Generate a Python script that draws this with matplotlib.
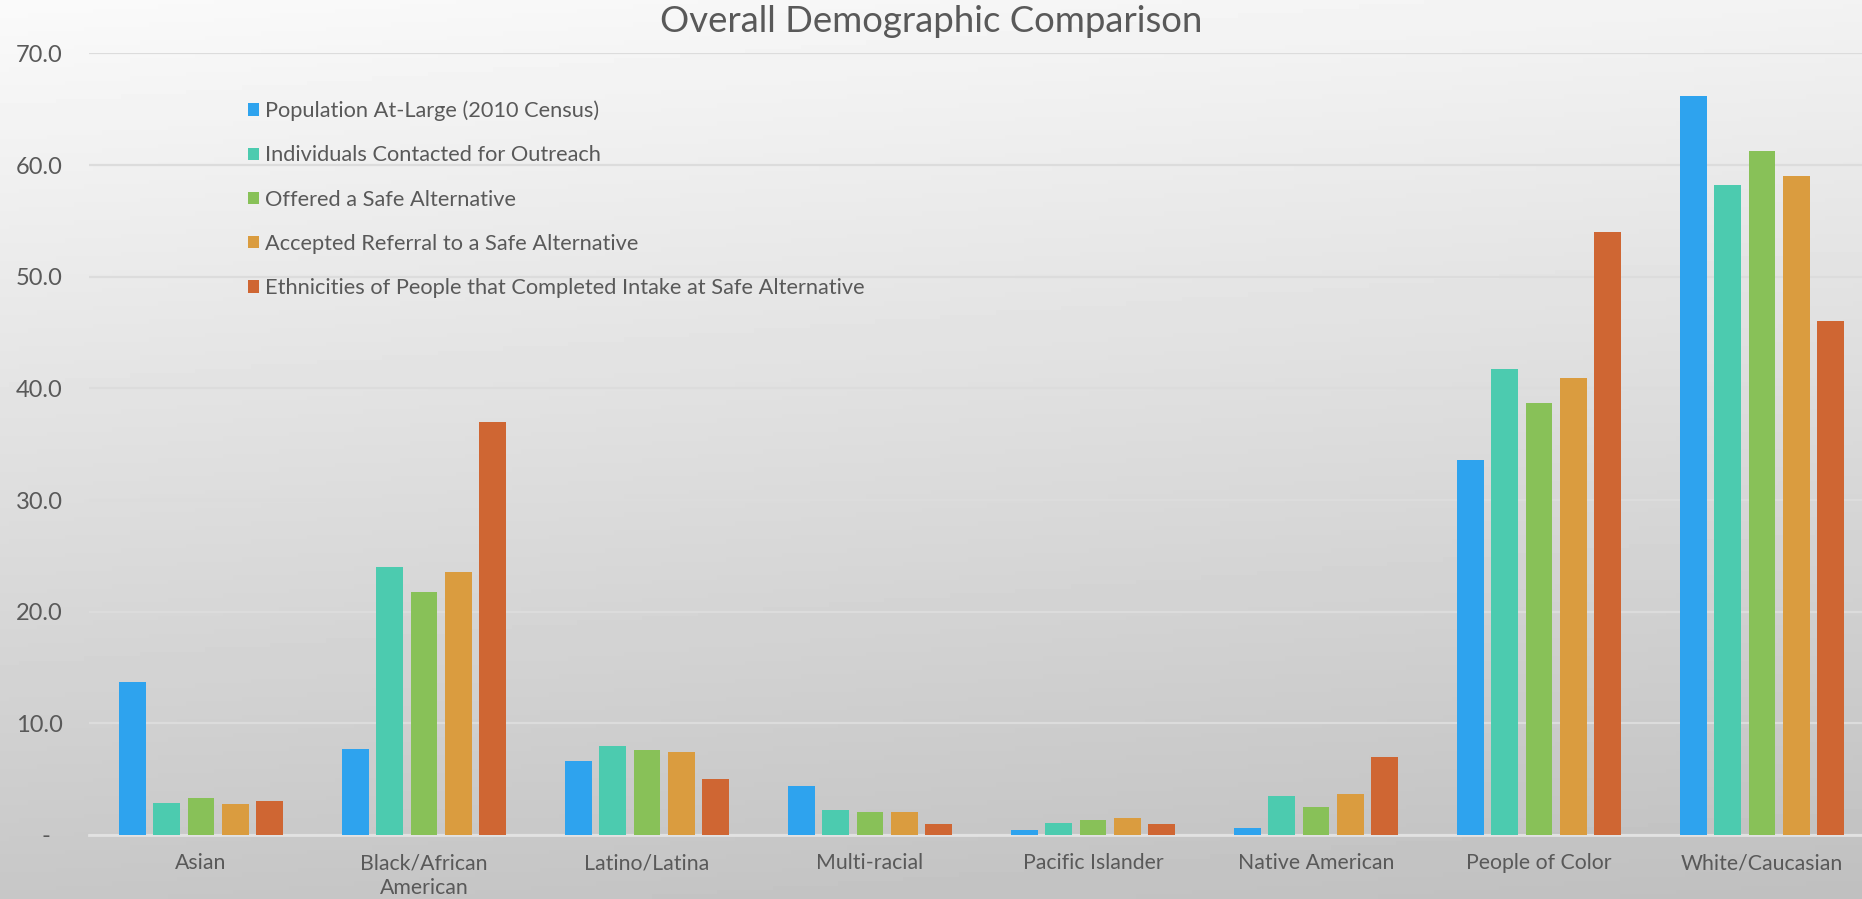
import matplotlib.pyplot as plt
import numpy as np

categories = [
    "Asian",
    "Black/African\nAmerican",
    "Latino/Latina",
    "Multi-racial",
    "Pacific Islander",
    "Native American",
    "People of Color",
    "White/Caucasian",
]
series_names = [
    "Population At-Large (2010 Census)",
    "Individuals Contacted for Outreach",
    "Offered a Safe Alternative",
    "Accepted Referral to a Safe Alternative",
    "Ethnicities of People that Completed Intake at Safe Alternative",
]
population = [13.7, 7.7, 6.6, 4.4, 0.45, 0.6, 33.6, 66.2]
contacted = [2.9, 24.0, 8.0, 2.2, 1.1, 3.5, 41.7, 58.2]
offered = [3.3, 21.8, 7.6, 2.1, 1.35, 2.5, 38.7, 61.3]
accepted = [2.8, 23.6, 7.4, 2.1, 1.5, 3.7, 40.9, 59.0]
completed = [3.0, 37.0, 5.0, 1.0, 1.0, 7.0, 54.0, 46.0]
y_ticks = [0, 10, 20, 30, 40, 50, 60, 70]
y_tick_labels = ["-  ", "10.0", "20.0", "30.0", "40.0", "50.0", "60.0", "70.0"]

colors = ["#2ea3ee", "#4ccbaf", "#88c158", "#da9c3f", "#cf6633"]
text_color = "#595959"
plt.rcParams["font.family"] = ["Lato", "DejaVu Sans"]

fig = plt.figure(figsize=(18.62, 8.99), dpi=100)

# soft grey gradient behind everything, like the office chart style
bg = fig.add_axes([0, 0, 1, 1], zorder=-10)
yy, xx = np.mgrid[0:1:200j, 0:1:200j]
shade = 0.98 - 0.2 * yy - 0.03 * xx
bg.imshow(shade, cmap="gray", vmin=0, vmax=1, aspect="auto", extent=(0, 1, 1, 0))
bg.axis("off")

ax = fig.add_axes([0.0478, 0.0712, 0.9522, 0.8693])
ax.patch.set_alpha(0)

x = np.arange(len(categories))
width = 0.12
step = 0.154
for i, vals in enumerate([population, contacted, offered, accepted, completed]):
    ax.bar(x + (i - 2) * step, vals, width, color=colors[i],
           label=series_names[i], zorder=3)

ax.set_xlim(-0.502, 7.448)
ax.set_ylim(0, 70)
ax.set_yticks(y_ticks)
ax.set_yticklabels(y_tick_labels)
ax.set_xticks(x)
ax.set_xticklabels(categories, linespacing=1.3)
ax.tick_params(axis="y", length=0, pad=19, labelsize=17, labelcolor=text_color)
ax.tick_params(axis="x", length=0, pad=13, labelsize=15.3, labelcolor=text_color)
ax.grid(axis="y", color="#dcdcdc", linewidth=1.6, zorder=0)
for side in ["top", "right", "left"]:
    ax.spines[side].set_visible(False)
ax.spines["bottom"].set_color("#e2e2e2")
ax.spines["bottom"].set_linewidth(2)

ax.legend(loc="upper left", bbox_to_anchor=(0.1332, 0.888),
          bbox_transform=fig.transFigure, frameon=False, fontsize=15.7,
          handlelength=0.5, handleheight=0.5, handletextpad=0.3,
          labelspacing=1.11, borderpad=0, borderaxespad=0,
          labelcolor=text_color)

fig.text(0.5, 1 - 22 / 899, "Overall Demographic Comparison", ha="center",
         va="center", fontsize=26.3, color=text_color)

fig.savefig("out.png", dpi=100)
